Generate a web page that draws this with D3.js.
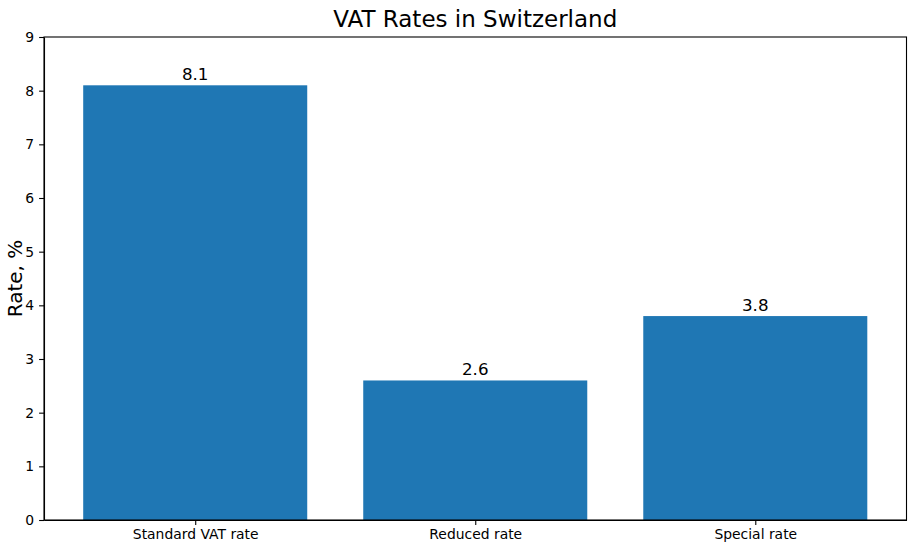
<!DOCTYPE html>
<html>
<head>
<meta charset="utf-8">
<script src="https://cdn.jsdelivr.net/npm/d3@7"></script>
<style>
  body { margin: 0; background: #fff; }
  svg text { font-family: "DejaVu Sans", sans-serif; fill: #000; }
  .axis path, .axis line { stroke: #000; stroke-width: 1.1; }
  .axis text { font-size: 13.9px; }
</style>
</head>
<body>
<div id="chart"></div>
<script>
var categories = ["Standard VAT rate", "Reduced rate", "Special rate"];
var rates = [8.1, 2.6, 3.8];
var yTicks = [0, 1, 2, 3, 4, 5, 6, 7, 8, 9];

function init(){
    var w = 915;
    var h = 549;
    var margin = {top: 37, right: 8.5, bottom: 29, left: 44};
    var innerW = w - margin.left - margin.right;
    var innerH = h - margin.top - margin.bottom;

    var dataset = categories.map(function(c, i){ return {name: c, value: rates[i]}; });

    // matplotlib-like numeric x: bars at 0,1,2 width 0.8, with 5% margins
    var xScale = d3.scaleLinear()
        .domain([-0.54, 2.54])
        .range([0, innerW]);

    var yScale = d3.scaleLinear()
        .domain([0, 9])
        .range([innerH, 0]);

    var svg = d3.select("#chart")
        .append("svg")
        .attr("width", w)
        .attr("height", h);

    var g = svg.append("g")
        .attr("transform", "translate(" + margin.left + "," + margin.top + ")");

    // bars
    g.selectAll("rect.bar")
        .data(dataset)
        .enter()
        .append("rect")
        .attr("class", "bar")
        .attr("x", function(d, i){ return xScale(i - 0.4); })
        .attr("width", function(d, i){ return xScale(i + 0.4) - xScale(i - 0.4); })
        .attr("y", function(d){ return yScale(d.value); })
        .attr("height", function(d){ return innerH - yScale(d.value); })
        .attr("fill", "#1f77b4");

    // bar value labels
    g.selectAll("text.barLabel")
        .data(dataset)
        .enter()
        .append("text")
        .attr("class", "barLabel")
        .attr("x", function(d, i){ return xScale(i); })
        .attr("y", function(d){ return yScale(d.value) - 5; })
        .attr("text-anchor", "middle")
        .style("font-size", "16.7px")
        .text(function(d){ return d.value.toFixed(1); });

    // axes
    var xAxis = d3.axisBottom(xScale)
        .tickValues([0, 1, 2])
        .tickFormat(function(d){ return categories[d]; })
        .tickSizeInner(4.9)
        .tickSizeOuter(0)
        .tickPadding(4.5);

    var yAxis = d3.axisLeft(yScale)
        .tickValues(yTicks)
        .tickFormat(d3.format("d"))
        .tickSizeInner(4.9)
        .tickSizeOuter(0)
        .tickPadding(4.9);

    g.append("g")
        .attr("class", "x axis")
        .attr("transform", "translate(0," + innerH + ")")
        .call(xAxis);

    g.append("g")
        .attr("class", "y axis")
        .call(yAxis);

    // frame (top and right spines)
    g.append("rect")
        .attr("x", 0)
        .attr("y", 0)
        .attr("width", innerW)
        .attr("height", innerH)
        .attr("fill", "none")
        .attr("stroke", "#000")
        .attr("stroke-width", 1.1);

    // title
    svg.append("text")
        .attr("x", margin.left + innerW / 2)
        .attr("y", 27)
        .attr("text-anchor", "middle")
        .style("font-size", "23px")
        .text("VAT Rates in Switzerland");

    // y label
    svg.append("text")
        .attr("transform", "translate(22," + (margin.top + innerH / 2) + ") rotate(-90)")
        .attr("text-anchor", "middle")
        .style("font-size", "20px")
        .text("Rate, %");
}
window.onload = init;
</script>
</body>
</html>
